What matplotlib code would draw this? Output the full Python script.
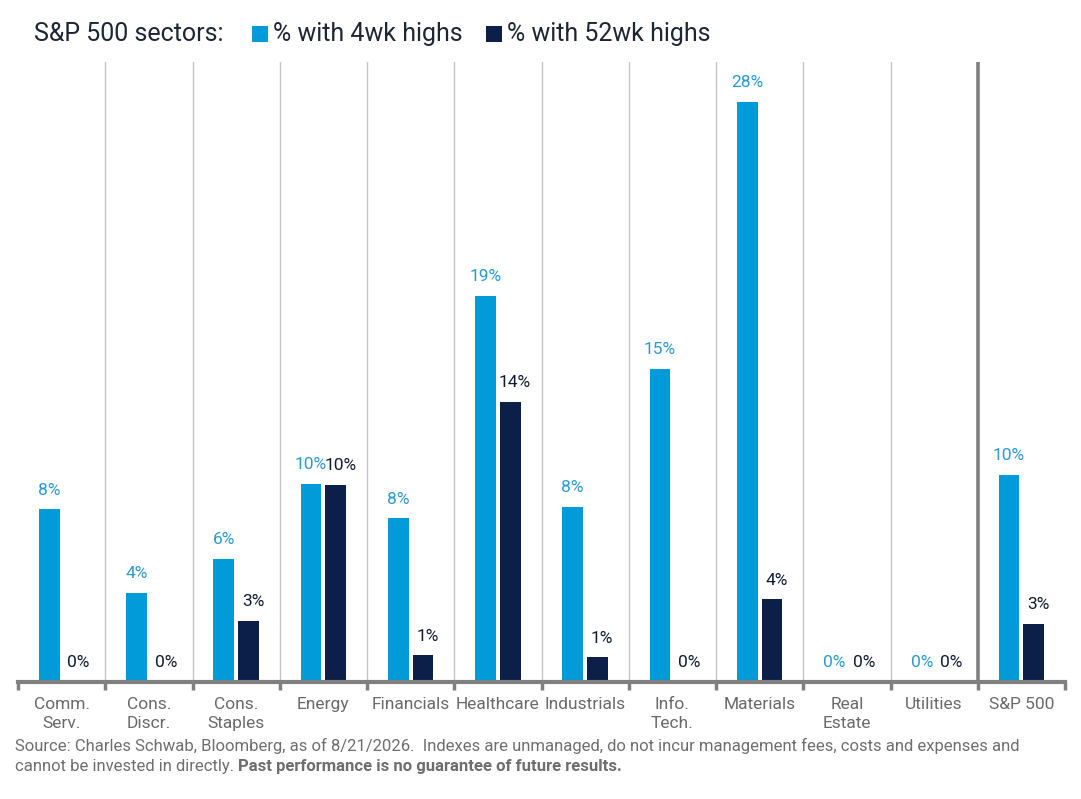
import matplotlib
matplotlib.use("Agg")
import matplotlib.pyplot as plt
from matplotlib.patches import Rectangle
import numpy as np

plt.rcParams['font.family'] = ['Roboto', 'DejaVu Sans']

categories = ["Comm.\nServ.", "Cons.\nDiscr.", "Cons.\nStaples", "Energy", "Financials",
              "Healthcare", "Industrials", "Info.\nTech.", "Materials", "Real\nEstate",
              "Utilities", "S&P 500"]
pct_4wk = [8.35, 4.3, 5.94, 9.56, 7.9, 18.64, 8.45, 15.11, 28.0, 0.0, 0.0, 10.0]
pct_52wk = [0.0, 0.0, 2.95, 9.51, 1.3, 13.53, 1.2, 0.0, 4.0, 0.0, 0.0, 2.8]
series_names = ["% with 4wk highs", "% with 52wk highs"]

BLUE = "#009bd8"
NAVY = "#0b1f48"
BLUE_TXT = "#2a9ad3"
NAVY_TXT = "#101c33"
GRID = "#c4c4c4"
AXIS = "#808080"

W, H = 1081, 799
fig = plt.figure(figsize=(W / 100, H / 100), dpi=100)
ax = fig.add_axes([18 / W, (H - 682) / H, (1065 - 18) / W, (682 - 62) / H])

x = np.arange(len(categories))
bw = 0.24
off = 0.142
ax.bar(x - off, pct_4wk, width=bw, color=BLUE, zorder=3)
ax.bar(x + off, pct_52wk, width=bw, color=NAVY, zorder=3)

for xi, v in zip(x, pct_4wk):
    ax.annotate(f"{round(v):.0f}%", (xi - off, v), xytext=(0, 13.7), textcoords="offset points",
                ha="center", va="center", fontsize=12.5, color=BLUE_TXT, zorder=4)
for xi, v in zip(x, pct_52wk):
    ax.annotate(f"{round(v):.0f}%", (xi + off, v), xytext=(3.2, 13.7), textcoords="offset points",
                ha="center", va="center", fontsize=12.5, color=NAVY_TXT, zorder=4)

ax.set_xlim(-0.5, len(categories) - 0.5)
ax.set_ylim(0, 29.93)

# separators
for b in np.arange(0.5, len(categories) - 1, 1.0):
    if b == len(categories) - 1.5:
        ax.axvline(b, color=AXIS, lw=2.6, zorder=2)
    else:
        ax.axvline(b, color=GRID, lw=1.0, zorder=1)

for s in ["top", "right", "left"]:
    ax.spines[s].set_visible(False)
ax.spines["bottom"].set_color(AXIS)
ax.spines["bottom"].set_linewidth(3)
ax.spines["bottom"].set_zorder(5)
ax.set_yticks([])

ax.set_xticks(np.arange(-0.5, len(categories), 1.0))
ax.set_xticklabels([])
ax.tick_params(axis="x", which="major", length=6, width=2.5, color=AXIS, direction="out")
ax.set_xticks(x, minor=True)
ax.set_xticklabels(categories, minor=True, fontsize=12.5, color="#6a6a6a", linespacing=1.3)
ax.tick_params(axis="x", which="minor", length=0, pad=11)

# title / legend
TITLE_C = "#1d2733"
fig.text(34 / W, 1 - 34 / H, "S&P 500 sectors:", fontsize=18, color=TITLE_C,
         ha="left", va="center")
fig.patches.append(Rectangle((252 / W, 1 - 42 / H), 16 / W, 16 / H, transform=fig.transFigure,
                             facecolor=BLUE, edgecolor="none"))
fig.text(273 / W, 1 - 34 / H, series_names[0], fontsize=18, color=TITLE_C,
         ha="left", va="center")
fig.patches.append(Rectangle((486 / W, 1 - 42 / H), 16 / W, 16 / H, transform=fig.transFigure,
                             facecolor=NAVY, edgecolor="none"))
fig.text(507 / W, 1 - 34 / H, series_names[1], fontsize=18, color=TITLE_C,
         ha="left", va="center")

# footer
FOOT = "#6e6e6e"
fig.text(15 / W, 1 - 746 / H,
         "Source: Charles Schwab, Bloomberg, as of 8/21/2026.  Indexes are unmanaged, do not incur management fees, costs and expenses and",
         fontsize=12, color=FOOT, ha="left", va="center")
t2 = fig.text(15 / W, 1 - 767 / H, "cannot be invested in directly. ", fontsize=12, color=FOOT,
              ha="left", va="center")
fig.canvas.draw()
r = fig.canvas.get_renderer()
bb = t2.get_window_extent(r)
fig.text(bb.x1 / W, 1 - 767 / H, "Past performance is no guarantee of future results.",
         fontsize=12, color=FOOT, fontweight="bold", ha="left", va="center")

fig.savefig("out.png", dpi=100)
